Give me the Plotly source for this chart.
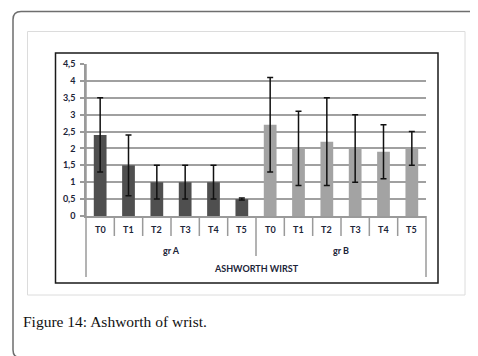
import plotly.graph_objects as go

# ---- data ----
categories = ["T0", "T1", "T2", "T3", "T4", "T5"]
groups = ["gr A", "gr B"]
values_a = [2.4, 1.5, 1.0, 1.0, 1.0, 0.5]
errors_a = [1.1, 0.9, 0.5, 0.5, 0.5, 0.03]
values_b = [2.7, 2.0, 2.2, 2.0, 1.9, 2.0]
errors_b = [1.4, 1.1, 1.3, 1.0, 0.8, 0.5]
axis_title = "ASHWORTH WIRST"
y_ticks = [0, 0.5, 1, 1.5, 2, 2.5, 3, 3.5, 4, 4.5]
caption = "Figure 14: Ashworth of wrist."

W, H = 478, 356
L, R, T, B = 78, 418, 56, 208  # plot area in px


def px(x):
    return (x - L) / (R - L)


def py(y):
    return (B - y) / (B - T)


n = len(categories)
xa = list(range(n))
xb = list(range(n, 2 * n))

fig = go.Figure()
fig.add_trace(go.Bar(
    x=xa, y=values_a, width=0.45, marker=dict(color="#4f4f4f", line=dict(width=0)),
    error_y=dict(type="data", array=errors_a, color="#111111", thickness=1.5, width=3),
    name=groups[0], showlegend=False))
fig.add_trace(go.Bar(
    x=xb, y=values_b, width=0.45, marker=dict(color="#a3a3a3", line=dict(width=0)),
    error_y=dict(type="data", array=errors_b, color="#111111", thickness=1.5, width=3),
    name=groups[1], showlegend=False))

lab_font = dict(family="Lato, 'Open Sans', sans-serif", size=9, color="#1c2438", weight="bold")

shapes = []
annotations = []


def rrect(x0, y0, x1, y1, r):
    # rounded rectangle path in paper coords from pixel coords
    return ("M {a},{b} L {c},{b} Q {d},{b} {d},{e} L {d},{f} Q {d},{g} {c},{g} "
            "L {a},{g} Q {h},{g} {h},{f} L {h},{e} Q {h},{b} {a},{b} Z").format(
        a=px(x0 + r), b=py(y0), c=px(x1 - r), d=px(x1), e=py(y0 + r),
        f=py(y1 - r), g=py(y1), h=px(x0))


# outer rounded frame
shapes.append(dict(type="path", xref="paper", yref="paper", path=rrect(5, 3.5, 471.5, 350, 8),
                   line=dict(color="#6e6e6e", width=1.5), layer="below"))
# light inner frame
shapes.append(dict(type="rect", xref="paper", yref="paper", x0=px(19.5), x1=px(457), y0=py(23.5), y1=py(287),
                   line=dict(color="#dcdcdc", width=1), layer="below"))
# black chart frame
shapes.append(dict(type="rect", xref="paper", yref="paper", x0=px(47.5), x1=px(430), y0=py(45), y1=py(275),
                   line=dict(color="#1a1a1a", width=1.5), layer="below"))
# y-axis extension and right closing line
shapes.append(dict(type="line", xref="paper", yref="paper", x0=0, x1=0, y0=py(269), y1=1,
                   line=dict(color="#9a9a9a", width=1.5)))
shapes.append(dict(type="line", xref="paper", yref="paper", x0=1, x1=1, y0=py(269), y1=0,
                   line=dict(color="#9a9a9a", width=1.5)))

# category separators and labels
for i in range(2 * n):
    annotations.append(dict(x=i, y=py(221), xref="x", yref="paper", text=categories[i % n],
                            showarrow=False, font=lab_font, xanchor="center", yanchor="middle"))
    if i > 0:
        bottom = 248 if i % n == 0 else 228
        shapes.append(dict(type="line", xref="x", yref="paper", x0=i - 0.5, x1=i - 0.5,
                           y0=py(bottom), y1=0, line=dict(color="#9a9a9a", width=1.5)))
for g, name in enumerate(groups):
    annotations.append(dict(x=g * n + (n - 1) / 2, y=py(242), xref="x", yref="paper", text=name,
                            showarrow=False, font=lab_font, xanchor="center", yanchor="middle"))
annotations.append(dict(x=0.5, y=py(260), xref="paper", yref="paper", text=axis_title,
                        showarrow=False, font=lab_font, xanchor="center", yanchor="middle"))
annotations.append(dict(x=px(13), y=py(313), xref="paper", yref="paper", text=caption,
                        showarrow=False, xanchor="left", yanchor="middle",
                        font=dict(family="'Liberation Serif', 'DejaVu Serif', serif", size=15.5, color="#111111")))

fig.update_layout(
    width=W, height=H,
    margin=dict(l=L, r=W - R, t=T, b=H - B, pad=0),
    paper_bgcolor="white", plot_bgcolor="white",
    separators=", ",
    barmode="overlay",
    shapes=shapes, annotations=annotations,
    xaxis=dict(range=[-0.5, 2 * n - 0.5], showticklabels=False, ticks="", showgrid=False,
               zeroline=False, showline=True, linecolor="#9a9a9a", linewidth=1.5, fixedrange=True),
    yaxis=dict(range=[0, 4.5], tickvals=y_ticks, showgrid=True, gridcolor="#a0a0a0", gridwidth=1.5,
               zeroline=False, showline=True, linecolor="#9a9a9a", linewidth=1.5,
               ticks="outside", ticklen=4, tickcolor="#9a9a9a", tickwidth=1.5,
               ticklabelstandoff=3, tickfont=lab_font, fixedrange=True),
)

fig.write_html("out.html")
